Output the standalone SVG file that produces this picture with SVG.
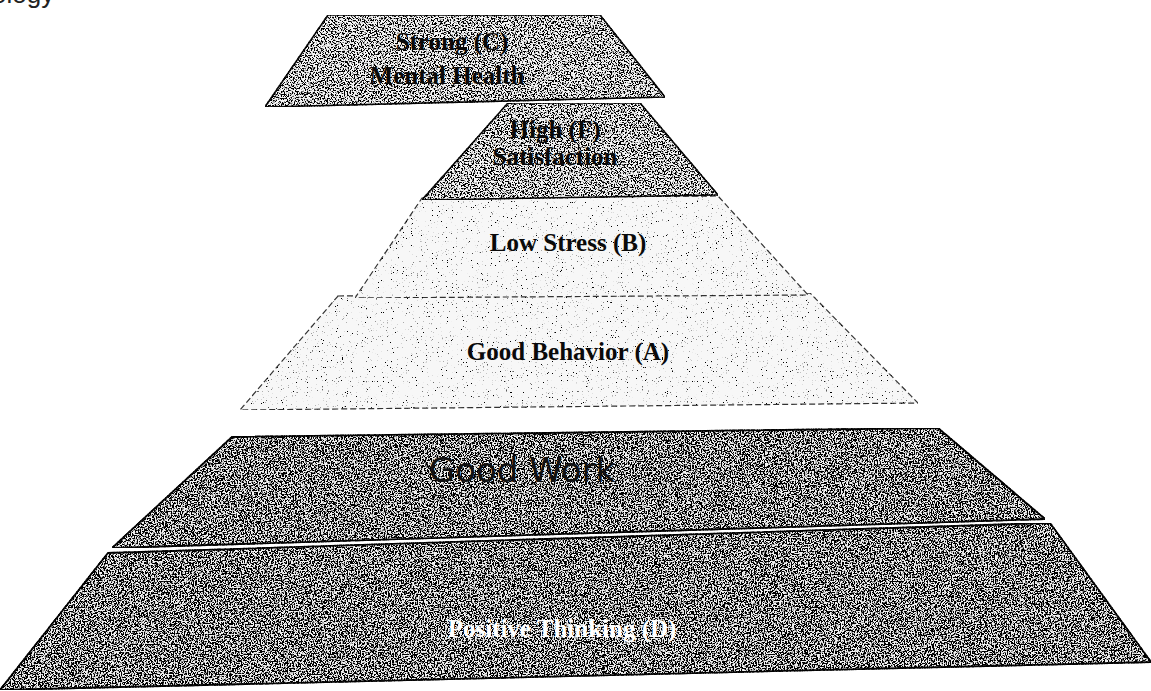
<svg xmlns="http://www.w3.org/2000/svg" width="1151" height="691" viewBox="0 0 1151 691">
<defs>
<filter id="grainDark" x="0" y="0" width="1" height="1">
<feTurbulence type="fractalNoise" baseFrequency="0.7" numOctaves="2" seed="4" result="n"/>
<feColorMatrix in="n" type="matrix" values="0 0 0 0 0 0 0 0 0 0 0 0 0 0 0 10 0 0 0 -4.3" result="d"/>
<feComposite in="d" in2="SourceGraphic" operator="in" result="dots"/>
<feMerge><feMergeNode in="SourceGraphic"/><feMergeNode in="dots"/></feMerge>
</filter>
<filter id="grainMid" x="0" y="0" width="1" height="1">
<feTurbulence type="fractalNoise" baseFrequency="0.7" numOctaves="2" seed="7" result="n"/>
<feColorMatrix in="n" type="matrix" values="0 0 0 0 0 0 0 0 0 0 0 0 0 0 0 10 0 0 0 -4.7" result="d"/>
<feComposite in="d" in2="SourceGraphic" operator="in" result="dots"/>
<feMerge><feMergeNode in="SourceGraphic"/><feMergeNode in="dots"/></feMerge>
</filter>
<filter id="grainLight" x="0" y="0" width="1" height="1">
<feTurbulence type="fractalNoise" baseFrequency="0.8" numOctaves="2" seed="9" result="n"/>
<feColorMatrix in="n" type="matrix" values="0 0 0 0 0 0 0 0 0 0 0 0 0 0 0 12 0 0 0 -8.2" result="d"/>
<feComposite in="d" in2="SourceGraphic" operator="in" result="dots"/>
<feMerge><feMergeNode in="SourceGraphic"/><feMergeNode in="dots"/></feMerge>
</filter>
</defs>
<style>
.dark{fill:#f2f2f2;stroke:#111;stroke-width:1.8;filter:url(#grainDark)}
.mid{fill:#f6f6f6;stroke:#111;stroke-width:1.6;filter:url(#grainMid)}
.light{fill:#f7f7f7;stroke:#333;stroke-width:1.2;stroke-dasharray:6 3;filter:url(#grainLight)}
.lbl{font-family:"Liberation Serif","DejaVu Serif",serif;font-weight:bold;font-size:25px;text-anchor:middle;fill:#0a0a0a}
.wlbl{font-family:"Liberation Serif","DejaVu Serif",serif;font-weight:bold;font-size:25px;text-anchor:middle;fill:#fff}
.hand{font-family:"DejaVu Sans","Liberation Sans",sans-serif;font-size:34px;text-anchor:middle;fill:#111;font-weight:normal}
</style>
<rect width="1151" height="691" fill="#fff"/>
<text x="-8" y="3" style="font-family:'Liberation Sans',sans-serif;font-size:26px;fill:#222">ology</text>
<g id="layer-positive-thinking">
<polygon class="dark" points="108,553 1050,523 1151,662 0,690"/>
<text class="wlbl" x="562" y="637">Positive Thinking (D)</text>
</g>
<g id="layer-good-work">
<polygon class="dark" points="232,437 938,428 1045,519 112,548"/>
<text class="hand" x="522" y="482">Good Work</text>
</g>
<g id="layer-good-behavior">
<polygon class="light" points="338,296 810,293 918,403 240,410"/>
<text class="lbl" x="568" y="360">Good Behavior (A)</text>
</g>
<g id="layer-low-stress">
<polygon class="light" points="422,198 718,196 808,295 355,298"/>
<text class="lbl" x="568" y="251">Low Stress (B)</text>
</g>
<g id="layer-high-satisfaction">
<polygon class="mid" points="508,103 640,103 718,195 422,200"/>
<text class="lbl" x="555" y="138">High (F)</text>
<text class="lbl" x="555" y="165">Satisfaction</text>
</g>
<g id="layer-mental-health">
<polygon class="mid" points="328,15 600,15 665,97 265,107"/>
<text class="lbl" x="452" y="50">Strong (C)</text>
<text class="lbl" x="447" y="84">Mental Health</text>
</g>
<g id="connectors"></g>
</svg>
